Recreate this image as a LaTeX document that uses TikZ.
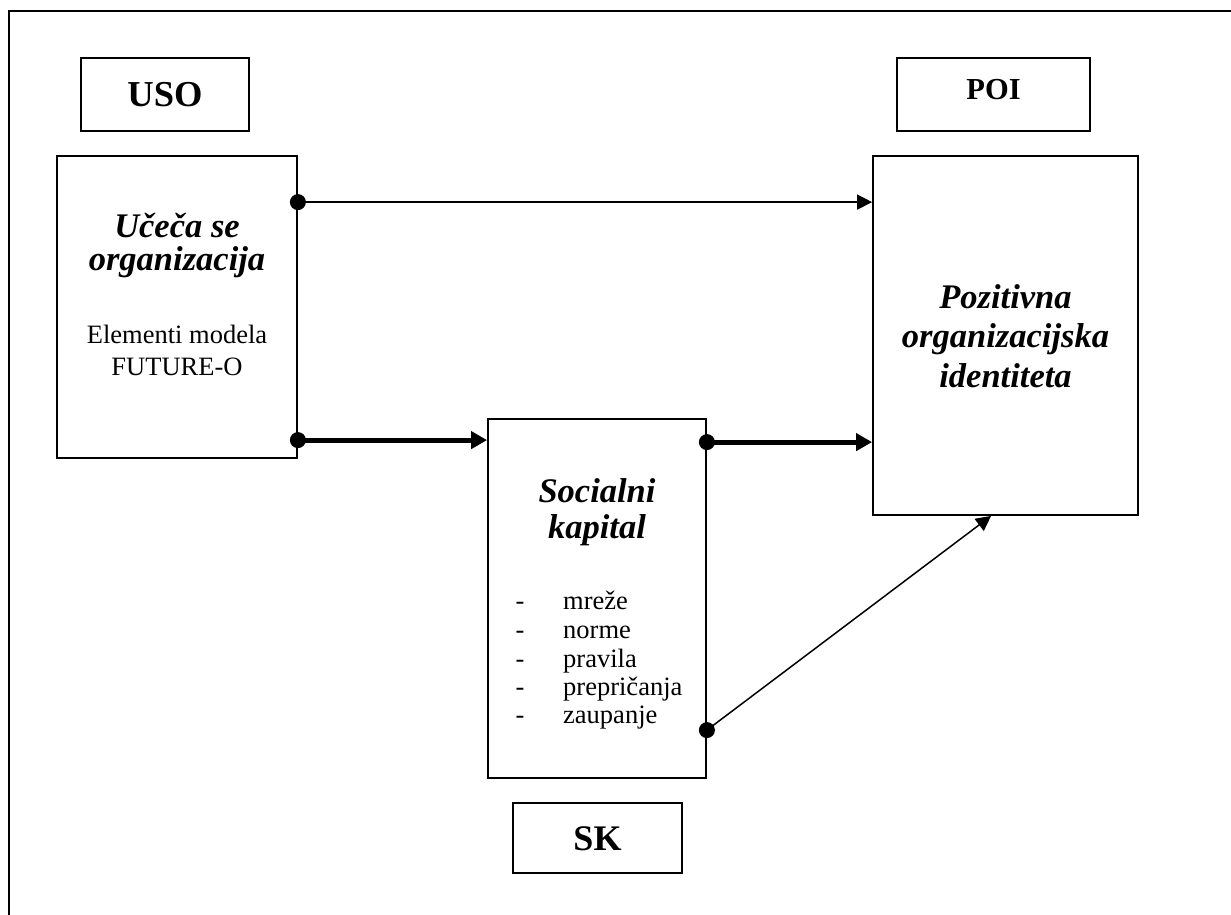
\documentclass[tikz,border=0pt]{standalone}
\usepackage{fontspec}
\setmainfont{Liberation Serif}
\usetikzlibrary{arrows.meta,calc}

\tikzset{
  box/.style={draw, line width=1.8pt, inner sep=0pt, minimum width=#1},
  head/.style={font=\fontsize{34.5}{38}\selectfont\bfseries\itshape, inner sep=0pt, anchor=base},
  body/.style={font=\fontsize{26.5}{29}\selectfont, inner sep=0pt, anchor=base},
  tag/.style={font=\fontsize{#1}{#1}\selectfont\bfseries, inner sep=0pt, anchor=base},
  thin link/.style={line width=1.5pt, -{Triangle[length=15pt,width=15pt]}},
  thick link/.style={line width=5pt, -{Triangle[length=16pt,width=17pt]}},
  dot/.style={fill=black}
}

\begin{document}
\begin{tikzpicture}[x=1pt, y=-1pt]
  \useasboundingbox (0,0) rectangle (1231,915);

  % page frame (open at right and bottom)
  \coordinate (frameR) at (1231,11);
  \coordinate (frameC) at (9,11);
  \coordinate (frameB) at (9,915);
  \draw[line width=2pt] (frameR) -- (frameC) -- (frameB);

  % label boxes
  \node[box=168pt, minimum height=73pt] (uso) at (165,94.5) {};
  \node[box=193pt, minimum height=73pt] (poi) at (993.5,94.5) {};
  \node[box=169pt, minimum height=70pt] (sk)  at (597.5,838) {};
  \node[tag=36.5] (usot) at (165,107) {USO};
  \node[tag=30.5] (poit) at (993.5,100) {POI};
  \node[tag=36] (skt) at (597.5,850) {SK};

  % main boxes
  \node[box=240pt, minimum height=302pt] (learn)    at (177,307) {};
  \node[box=265pt, minimum height=359pt] (identity) at (1005.5,335.5) {};
  \node[box=218pt, minimum height=359pt] (social)   at (597,598.5) {};

  % learning organisation
  \node[head] (l1) at (177,237) {Učeča se};
  \node[head] (l2) at (177,270) {organizacija};
  \node[body] (l3) at (177,343) {Elementi modela};
  \node[body] (l4) at (177,375) {FUTURE-O};

  % social capital
  \node[head] (s1) at (597,502) {Socialni};
  \node[head] (s2) at (597,538) {kapital};
  \foreach \y/\w [count=\i] in {609/mreže, 638/norme, 667/pravila, 695/prepričanja, 723/zaupanje}{
    \node[body] (dash\i) at (520,\y) {-};
    \node[body, anchor=base west] (item\i) at (563,\y) {\w};
  }

  % positive identity
  \node[head] (p1) at (1005.5,308) {Pozitivna};
  \node[head] (p2) at (1005.5,347) {organizacijska};
  \node[head] (p3) at (1005.5,387) {identiteta};

  % connector end points
  \coordinate (a1) at ($(learn.north east)+(0,47)$);
  \coordinate (a2) at ($(learn.north east)+(0,285)$);
  \coordinate (a3) at ($(social.north east)+(0,24)$);
  \coordinate (a4) at ($(social.north east)+(0,312)$);
  \coordinate (e4) at ($(identity.south west)+(119,0)$);

  % connectors
  \draw[thin link]  (a1) -- (a1 -| identity.west);
  \draw[thick link] (a2) -- (a2 -| social.west);
  \draw[thick link] (a3) -- (a3 -| identity.west);
  \draw[thin link]  (a4) -- (e4);

  % start dots
  \foreach \p in {a1,a2,a3,a4}{
    \fill[dot] (\p) circle (8pt);
  }
\end{tikzpicture}
\end{document}
